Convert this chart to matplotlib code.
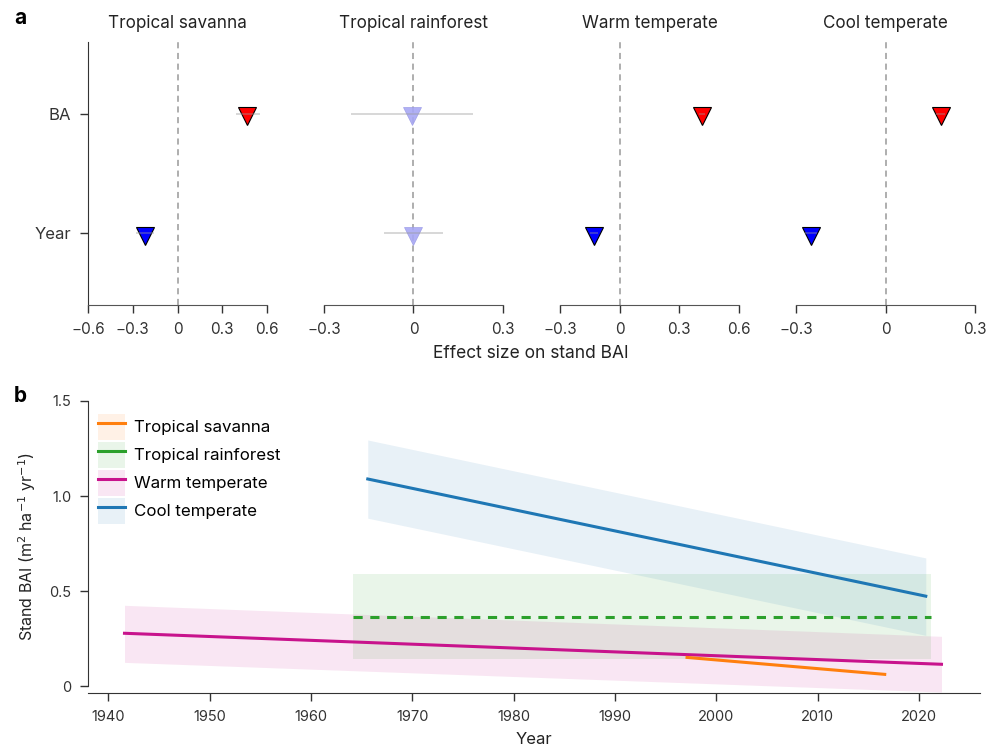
import numpy as np
import matplotlib.pyplot as plt
from matplotlib.patches import Patch
from matplotlib.lines import Line2D

plt.rcParams['font.family'] = ['Inter', 'DejaVu Sans']
plt.rcParams['axes.edgecolor'] = '#333333'
plt.rcParams['xtick.color'] = '#333333'
plt.rcParams['ytick.color'] = '#333333'
plt.rcParams['axes.unicode_minus'] = True

# ---- panel a data: effect sizes (BA, Year) per biome ----
biomes = ['Tropical savanna', 'Tropical rainforest', 'Warm temperate', 'Cool temperate']
terms = ['BA', 'Year']
est = [[0.467, -0.22], [-0.005, 0.0], [0.415, -0.13], [0.185, -0.25]]
lo = [[0.39, -0.28], [-0.21, -0.10], [0.40, -0.15], [0.17, -0.27]]
hi = [[0.55, -0.16], [0.20, 0.10], [0.43, -0.11], [0.20, -0.23]]
signif = [[True, True], [False, False], [True, True], [True, True]]
xlims = [(-0.6, 0.6), (-0.3, 0.3), (-0.3, 0.6), (-0.3, 0.3)]
xticks = [[-0.6, -0.3, 0, 0.3, 0.6], [-0.3, 0, 0.3], [-0.3, 0, 0.3, 0.6], [-0.3, 0, 0.3]]

# ---- panel b data: fitted stand BAI trends ----
years = {'Tropical savanna': [1997.1, 2016.6],
         'Tropical rainforest': [1964.1, 2021.2],
         'Warm temperate': [1941.6, 2022.2],
         'Cool temperate': [1965.6, 2020.65]}
fit = {'Tropical savanna': [0.152, 0.063],
       'Tropical rainforest': [0.365, 0.365],
       'Warm temperate': [0.279, 0.116],
       'Cool temperate': [1.09, 0.474]}
ci_lo = {'Tropical savanna': [0.150, 0.061],
         'Tropical rainforest': [0.142, 0.142],
         'Warm temperate': [0.126, -0.03],
         'Cool temperate': [0.884, 0.268]}
ci_hi = {'Tropical savanna': [0.154, 0.065],
         'Tropical rainforest': [0.59, 0.59],
         'Warm temperate': [0.426, 0.263],
         'Cool temperate': [1.295, 0.675]}
colors = {'Tropical savanna': '#ff7f0e', 'Tropical rainforest': '#2ca02c',
          'Warm temperate': '#c8138c', 'Cool temperate': '#1f77b4'}
styles = {'Tropical savanna': '-', 'Tropical rainforest': (0, (3, 2.5)),
          'Warm temperate': '-', 'Cool temperate': '-'}

fig = plt.figure(figsize=(9.87, 7.47), dpi=100)

lefts = [88, 324, 560, 796]
W, H = 987, 747
ypos = [1, 0]
for i, b in enumerate(biomes):
    ax = fig.add_axes([lefts[i] / W, 1 - 305 / H, 179 / W, 263 / H])
    ax.set_xlim(*xlims[i])
    ax.set_ylim(-0.6, 1.6)
    ax.axvline(0, color='#999999', ls=(0, (4, 3)), lw=1.1, zorder=1)
    for j in range(2):
        if signif[i][j]:
            fc = 'red' if est[i][j] > 0 else 'blue'
            ax.plot(est[i][j], ypos[j] - 0.02, marker='v', ms=13, mfc=fc, mec='black',
                    mew=0.8, ls='none', zorder=3)
        else:
            ax.plot(est[i][j], ypos[j] - 0.02, marker='v', ms=13, mfc='#a8a8f4', mec='#9a9ae6',
                    mew=0.5, alpha=0.9, ls='none', zorder=3)
        ax.hlines(ypos[j], lo[i][j], hi[i][j], color='#999999', lw=1.2, alpha=0.45, zorder=4)
    ax.set_xticks(xticks[i])
    ax.set_xticklabels(['0' if t == 0 else f'{t:.1f}'.replace('-', '\u2212') for t in xticks[i]],
                       fontsize=11)
    ax.tick_params(axis='x', length=6, width=1, pad=6)
    for s in ['top', 'right']:
        ax.spines[s].set_visible(False)
    ax.spines['bottom'].set_color('#555555')
    if i == 0:
        ax.set_yticks(ypos)
        ax.set_yticklabels(terms, fontsize=12)
        ax.tick_params(axis='y', length=6, width=1, pad=6)
    else:
        ax.spines['left'].set_visible(False)
        ax.set_yticks([])
    ax.set_title(b, fontsize=12.3, pad=10, color='#222222')

fig.text(531 / W, 1 - 353 / H, 'Effect size on stand BAI', ha='center', va='center',
         fontsize=12.5, color='#222222')
fig.text(14 / W, 1 - 18 / H, 'a', fontsize=15, fontweight='bold', va='center')
fig.text(14 / W, 1 - 396 / H, 'b', fontsize=15, fontweight='bold', va='center')

# ---- panel b ----
axb = fig.add_axes([88 / W, 1 - 693 / H, 892 / W, 292 / H])
order = ['Warm temperate', 'Tropical rainforest', 'Cool temperate', 'Tropical savanna']
for b in order:
    c = colors[b]
    axb.fill_between(years[b], ci_lo[b], ci_hi[b], color=c, alpha=0.1, lw=0, zorder=1)
for b in order:
    axb.plot(years[b], fit[b], color=colors[b], ls=styles[b], lw=2.2, zorder=3)

axb.set_xlim(1938, 2026)
axb.set_ylim(-0.035, 1.5)
axb.set_xticks([1940, 1950, 1960, 1970, 1980, 1990, 2000, 2010, 2020])
axb.set_yticks([0, 0.5, 1.0, 1.5])
axb.set_yticklabels(['0', '0.5', '1.0', '1.5'])
axb.tick_params(labelsize=10.5, length=6, width=1, pad=6)
axb.spines['left'].set_bounds(0, 1.5)
for s in ['top', 'right']:
    axb.spines[s].set_visible(False)
axb.set_xlabel('Year', fontsize=12, labelpad=6, color='#222222')
axb.set_ylabel('Stand BAI (m$^{2}$ ha$^{-1}$ yr$^{-1}$)', fontsize=11.5, labelpad=8, color='#222222')

handles = []
for b in biomes:
    handles.append((Patch(facecolor=colors[b], alpha=0.1, lw=0),
                    Line2D([], [], color=colors[b], lw=2.2)))
axb.legend(handles, biomes, loc='upper left', bbox_to_anchor=(0.0, 0.99), frameon=False,
           fontsize=12.2, handlelength=1.6, handleheight=1.95, labelspacing=0.14,
           handletextpad=0.5, borderaxespad=0.2)

fig.savefig('out.png', dpi=100)
